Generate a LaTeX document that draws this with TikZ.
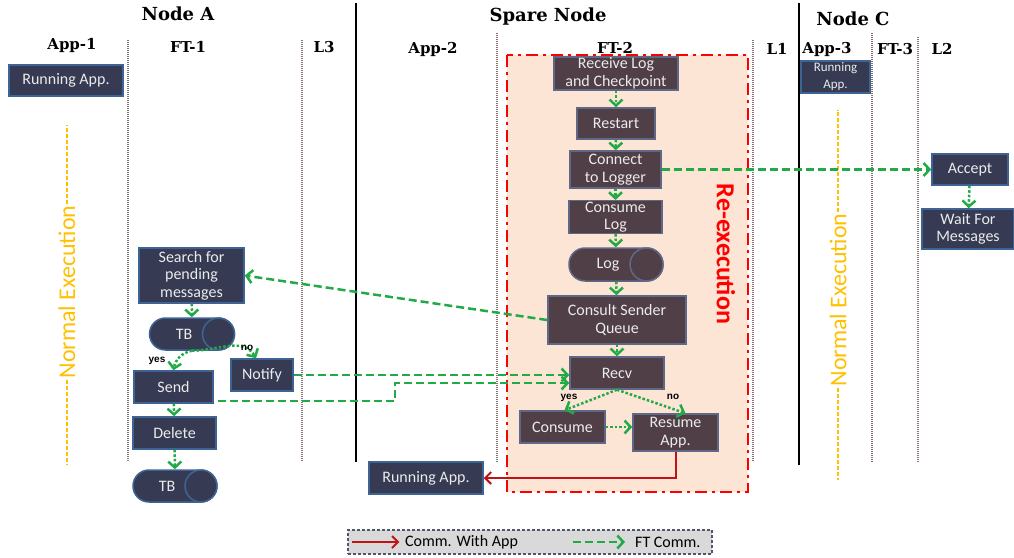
\documentclass[tikz,border=0pt]{standalone}
\usepackage{fontspec}
\setmainfont{Carlito}
\newfontfamily\hdrfont{DejaVu Serif}
\newfontfamily\lblfont{Liberation Sans}
\usetikzlibrary{arrows.meta, positioning}

\definecolor{navyfill}{RGB}{54,59,83}
\definecolor{navyline}{RGB}{62,100,150}
\definecolor{brownfill}{RGB}{80,63,70}
\definecolor{brownline}{RGB}{95,105,135}
\definecolor{boxtext}{RGB}{235,235,235}
\definecolor{ftgreen}{RGB}{34,170,70}
\definecolor{appred}{RGB}{192,20,20}
\definecolor{peach}{RGB}{253,229,214}
\definecolor{normorange}{RGB}{255,192,0}
\definecolor{divgray}{RGB}{135,115,115}
\definecolor{legendline}{RGB}{80,85,110}

\tikzset{
  nodebox/.style={draw=navyline, fill=navyfill, line width=1.5pt, text=boxtext,
    align=center, inner sep=1pt, font=\fontsize{16}{17.5}\selectfont},
  sparebox/.style={nodebox, draw=brownline, fill=brownfill},
  pill/.style={rounded corners=16pt},
  flow/.style={ftgreen, line width=2.5pt, dash pattern=on 2.5pt off 2pt,
    -{Straight Barb[length=6pt,width=13pt]}},
  ftcomm/.style={ftgreen, line width=2.5pt, dash pattern=on 8pt off 4pt,
    -{Straight Barb[length=6pt,width=13pt]}},
  appcomm/.style={appred, line width=2pt, -{Straight Barb[length=6pt,width=12pt]}},
  divider/.style={divgray, line width=2pt, dash pattern=on 1pt off 1pt},
  nodeline/.style={black, line width=2.5pt},
  nodehdr/.style={font=\hdrfont\bfseries\fontsize{18}{20}\selectfont},
  lanehdr/.style={font=\hdrfont\bfseries\fontsize{15}{17}\selectfont},
  normexec/.style={rotate=90, text=normorange, inner sep=1pt, font=\fontsize{24}{26}\selectfont},
  normdash/.style={normorange, line width=2pt, dash pattern=on 4pt off 2pt},
  reexec/.style={red, line width=2.5pt, fill=peach, dash pattern=on 12pt off 5pt on 3pt off 5pt},
  choice/.style={font=\lblfont\bfseries\fontsize{10}{12}\selectfont},
  legendtxt/.style={font=\fontsize{16}{18}\selectfont, inner sep=0pt}
}

\begin{document}
\begin{tikzpicture}[x=1pt, y=-1pt]
\useasboundingbox (0,0) rectangle (1014,557);

% Re-execution area
\draw[reexec] (507,55) rectangle (748,492);
\node[rotate=-90, text=red, font=\bfseries\fontsize{26}{28}\selectfont] (reexlbl) at (726,254) {Re-execution};

% lanes
\foreach \x/\t in {128/40, 302/40, 497/33, 753/40, 872/33, 918/37}
  \draw[divider] (\x,\t) -- (\x,462);
\foreach \x/\b in {356/462, 799/465}
  \draw[nodeline] (\x,3) -- (\x,\b);

% headers
\foreach \x/\y/\name in {178/14/Node A, 548/17/Spare Node, 853/19/Node C}
  \node[nodehdr] (hdr-\x) at (\x,\y) {\name};
\foreach \x/\y/\name in {72/45/App-1, 188/47/FT-1, 324/47/L3, 433/49/App-2, 615/48/FT-2,
    777/49/L1, 827/49/App-3, 895/49/FT-3, 942/49/L2}
  \node[lanehdr] (lane-\x) at (\x,\y) {\name};

% normal execution
\node[normexec] (ne1) at (67,292) {Normal Execution};
\draw[normdash] (ne1.east) -- (67,125);
\draw[normdash] (ne1.west) -- (67,465);
\node[normexec] (ne3) at (838,300) {Normal Execution};
\draw[normdash] (ne3.east) -- (838,110);
\draw[normdash] (ne3.west) -- (838,480);

% Node A
\node[nodebox, minimum width=114pt, minimum height=31pt] (app1) at (66,80.5) {Running App.};
\node[nodebox, minimum width=105pt, minimum height=55pt] (search) at (191.5,275.5) {Search for\\pending\\messages};
\node[nodebox, pill, minimum width=85pt, minimum height=32pt] (tb1) at (192,334) {TB\hspace*{16pt}};
\draw[navyline, fill=navyfill, line width=1.5pt] ([xshift=-16.75pt]tb1.east) circle (16pt);
\node[nodebox, minimum width=79pt, minimum height=32pt] (send) at (173.5,387) {Send};
\node[nodebox, minimum width=62pt, minimum height=32pt] (notify) at (262,375) {Notify};
\node[nodebox, minimum width=83pt, minimum height=32pt] (delete) at (174.5,433) {Delete};
\node[nodebox, pill, minimum width=84pt, minimum height=32pt] (tb2) at (175,486) {TB\hspace*{16pt}};
\draw[navyline, fill=navyfill, line width=1.5pt] ([xshift=-16.75pt]tb2.east) circle (16pt);

% Spare node
\node[sparebox, minimum width=124pt, minimum height=33pt] (recvlog) at (616,73.5) {Receive Log\\and Checkpoint};
\node[sparebox, minimum width=78pt, minimum height=31pt] (restart) at (616,123.5) {Restart};
\node[sparebox, minimum width=91pt, minimum height=37pt] (connect) at (615.5,169.5) {Connect\\to Logger};
\node[sparebox, minimum width=93pt, minimum height=32pt] (consumelog) at (615.5,217) {Consume\\Log};
\node[sparebox, pill, minimum width=94pt, minimum height=33pt] (log) at (616,264.5) {Log\hspace*{16pt}};
\draw[brownline, fill=brownfill, line width=1.5pt] ([xshift=-17.25pt]log.east) circle (16.5pt);
\node[sparebox, minimum width=138pt, minimum height=48pt] (consult) at (617,320) {Consult Sender\\Queue};
\node[sparebox, minimum width=94pt, minimum height=32pt] (recv) at (617,373) {Recv};
\node[sparebox, minimum width=85pt, minimum height=32pt] (consume) at (562.5,427) {Consume};
\node[sparebox, minimum width=85pt, minimum height=37pt] (resume) at (675.5,432.5) {Resume\\App.};
\node[nodebox, minimum width=114pt, minimum height=32pt] (app2) at (426,478) {Running App.};

% Node C
\node[nodebox, minimum width=69pt, minimum height=32pt, font=\fontsize{13}{17}\selectfont] (app3) at (835.5,77) {Running\\App.};
\node[nodebox, minimum width=76pt, minimum height=31pt] (accept) at (970,169.5) {Accept};
\node[nodebox, minimum width=92pt, minimum height=40pt] (wait) at (968,229) {Wait For\\Messages};

% flow in FT-1
\draw[flow] (search) -- (tb1);
\draw[flow] (tb1.south) to[out=190, in=80] (send.north);
\draw[flow] (tb1.south) to[out=0, in=120] ([xshift=-6pt]notify.north);
\node[choice] (yes1) at (157,361) {yes};
\node[choice] (no1) at (247,348) {no};
\draw[flow] (send) -- (delete);
\draw[flow] (delete) -- (tb2);

% flow in FT-2
\draw[flow] (recvlog) -- (restart);
\draw[flow] (restart) -- (connect);
\draw[flow] (connect) -- (consumelog);
\draw[flow] (consumelog) -- (log);
\draw[flow] (log) -- (consult);
\draw[flow] (consult) -- (recv);
\draw[flow] (recv.south) -- ([xshift=2pt]consume.north);
\draw[flow] (recv.south) -- ([xshift=10pt]resume.north);
\draw[flow] (consume.east) -- (consume.east -| resume.west);
\node[choice] (yes2) at (569,398) {yes};
\node[choice] (no2) at (673,397) {no};
\draw[appcomm] (resume.south) |- (app2.east);

% FT communication
\draw[ftcomm] (connect.east) -- (accept.west);
\draw[flow] (accept) -- (wait);
\draw[ftcomm] (consult.west) -- (search.east);
\draw[ftcomm] (notify.east) -- (notify.east -| recv.west);
\coordinate (sendbend) at (395,383);
\draw[ftcomm] ([xshift=4pt,yshift=-14pt]send.east) -| (sendbend) -- (sendbend -| recv.west);

% legend
\node[draw=legendline, fill=gray!30, line width=1.2pt, dash pattern=on 3pt off 2pt,
  minimum width=364pt, minimum height=24pt] (legend) at (530,542) {};
\draw[appcomm] ([xshift=5pt]legend.west) -- ++(47,0);
\node[legendtxt, anchor=west] (lg-app) at (405,542) {Comm. With App};
\draw[ftcomm] (573,542) -- (625,542);
\node[legendtxt, anchor=west] (lg-ft) at (635,542) {FT Comm.};
\end{tikzpicture}
\end{document}
